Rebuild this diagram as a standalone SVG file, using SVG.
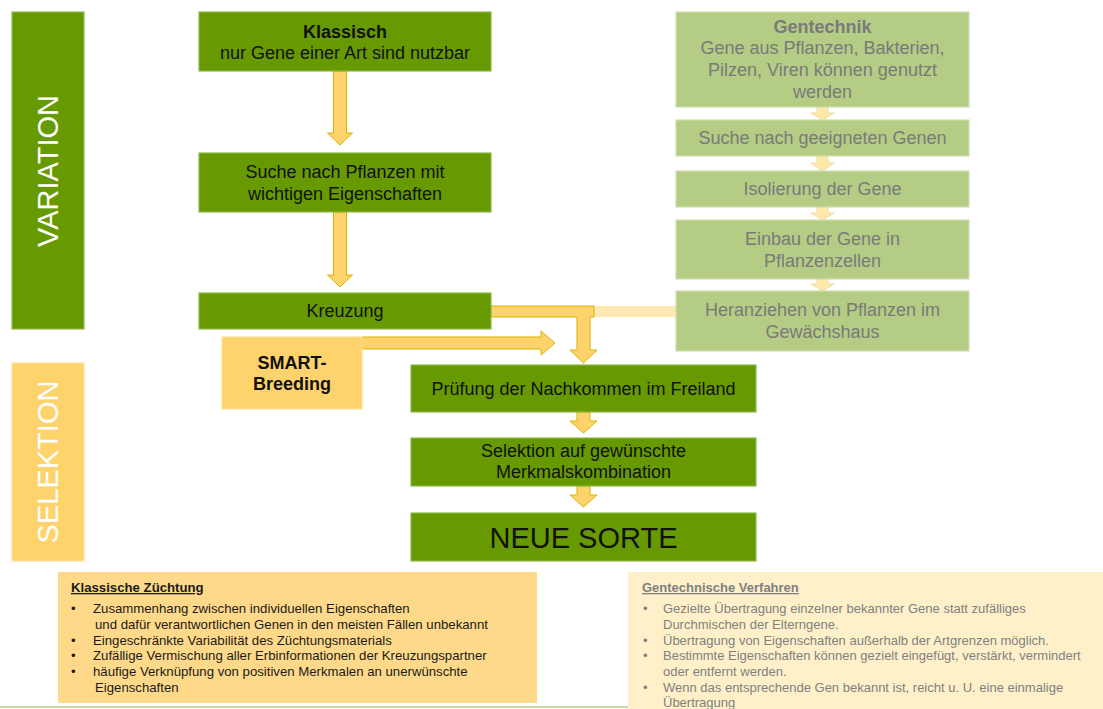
<svg xmlns="http://www.w3.org/2000/svg" width="1103" height="709" viewBox="0 0 1103 709">
<style>
.g{fill:#669a00;stroke:#8cba48;stroke-width:1.2}
.lg{fill:#b4cc84;stroke:#cfe0ad;stroke-width:1.2}
.y{fill:#ffd36b;stroke:#ffe29a;stroke-width:1.2}
.t{font-family:"Liberation Sans",Arial,sans-serif;font-size:18px;fill:#111;text-anchor:middle}
.tg{font-family:"Liberation Sans",Arial,sans-serif;font-size:18px;fill:#7a7a7a;text-anchor:middle}
.b{font-weight:bold}
.side{font-family:"Liberation Sans",Arial,sans-serif;font-size:29px;fill:#fff;text-anchor:middle}
.arr{fill:#ffd36b;stroke:#d9b300;stroke-width:1}
.parr{fill:#ffe9aa;stroke:#f3dc9a;stroke-width:1}
.n{font-family:"Liberation Sans",Arial,sans-serif;font-size:13.2px;fill:#1a1a1a}
.ng{font-family:"Liberation Sans",Arial,sans-serif;font-size:13px;fill:#808080}
</style>

<line x1="0" y1="707" x2="640" y2="707" stroke="#c8dca6" stroke-width="2"/>

<g id="variation">
<rect x="12" y="12" width="72" height="317" class="g"/>
<text class="side" transform="translate(58 171) rotate(-90)">VARIATION</text>
</g>
<g id="selektion">
<rect x="12" y="363" width="72" height="198" class="y"/>
<text class="side" transform="translate(58 462) rotate(-90)">SELEKTION</text>
</g>

<g id="connectors">
<path class="arr" d="M333.5 71 H346.5 V133 H352.5 L340 145 L327.5 133 H333.5 Z"/>
<path class="arr" d="M333.5 212 H346.5 V275 H352.5 L340 287 L327.5 275 H333.5 Z"/>
<rect x="594" y="306" width="82" height="11" fill="#ffe9b2"/>
<path class="arr" d="M491 306 H594 V317 H590 V350 H597 L583.5 363 L570 350 H577 V317 H491 Z"/>
<path class="arr" d="M362 337 H541 V331 L555 343 L541 355 V349 H362 Z"/>
<path class="arr" d="M577 412 H590 V421 H597 L583.5 433 L570 421 H577 Z"/>
<path class="arr" d="M577 486 H590 V495 H597 L583.5 507 L570 495 H577 Z"/>
<path class="parr" d="M817 107 H828 V113 H834 L822.5 120 L811 113 H817 Z"/>
<path class="parr" d="M817 156 H828 V163 H834 L822.5 171 L811 163 H817 Z"/>
<path class="parr" d="M817 207 H828 V213 H834 L822.5 220 L811 213 H817 Z"/>
<path class="parr" d="M817 279 H828 V284 H834 L822.5 291 L811 284 H817 Z"/>
</g>

<g id="klassisch">
<rect x="199" y="12" width="292" height="59" class="g"/>
<text class="t b" x="345" y="38">Klassisch</text>
<text class="t" x="345" y="59">nur Gene einer Art sind nutzbar</text>
</g>
<g id="suche-pflanzen">
<rect x="199" y="153" width="292" height="59" class="g"/>
<text class="t" x="345" y="178">Suche nach Pflanzen mit</text>
<text class="t" x="345" y="200">wichtigen Eigenschaften</text>
</g>
<g id="kreuzung">
<rect x="199" y="293" width="292" height="36" class="g"/>
<text class="t" x="345" y="317">Kreuzung</text>
</g>

<g id="gentechnik">
<rect x="676" y="12" width="293" height="95" class="lg"/>
<text class="tg b" x="822.5" y="33">Gentechnik</text>
<text class="tg" x="822.5" y="54">Gene aus Pflanzen, Bakterien,</text>
<text class="tg" x="822.5" y="76">Pilzen, Viren können genutzt</text>
<text class="tg" x="822.5" y="98">werden</text>
</g>
<g id="suche-gene">
<rect x="676" y="120" width="293" height="36" class="lg"/>
<text class="tg" x="822.5" y="144">Suche nach geeigneten Genen</text>
</g>
<g id="isolierung">
<rect x="676" y="171" width="293" height="36" class="lg"/>
<text class="tg" x="822.5" y="195">Isolierung der Gene</text>
</g>
<g id="einbau">
<rect x="676" y="220" width="293" height="59" class="lg"/>
<text class="tg" x="822.5" y="245">Einbau der Gene in</text>
<text class="tg" x="822.5" y="267">Pflanzenzellen</text>
</g>
<g id="heranziehen">
<rect x="676" y="291" width="293" height="60" class="lg"/>
<text class="tg" x="822.5" y="316">Heranziehen von Pflanzen im</text>
<text class="tg" x="822.5" y="338">Gewächshaus</text>
</g>

<g id="smart">
<rect x="222" y="337" width="140" height="72" class="y"/>
<text class="t b" x="292" y="369">SMART-</text>
<text class="t b" x="292" y="390">Breeding</text>
</g>
<g id="pruefung">
<rect x="411" y="365" width="345" height="47" class="g"/>
<text class="t" x="583.5" y="395">Prüfung der Nachkommen im Freiland</text>
</g>
<g id="selektion-box">
<rect x="411" y="438" width="345" height="48" class="g"/>
<text class="t" x="583.5" y="457">Selektion auf gewünschte</text>
<text class="t" x="583.5" y="478">Merkmalskombination</text>
</g>
<g id="neue-sorte">
<rect x="411" y="513" width="345" height="48" class="g"/>
<text class="t" x="583.5" y="548" style="font-size:29px">NEUE SORTE</text>
</g>

<g id="klassische-zuechtung">
<rect x="58" y="572" width="479" height="131" fill="#ffd98a"/>
<text class="n b" x="71" y="592" text-decoration="underline">Klassische Züchtung</text>
<text class="n" x="71" y="612.5">•</text>
<text class="n" x="93" y="612.5">Zusammenhang zwischen individuellen Eigenschaften</text>
<text class="n" x="95" y="628.5">und dafür verantwortlichen Genen in den meisten Fällen unbekannt</text>
<text class="n" x="71" y="644.5">•</text>
<text class="n" x="93" y="644.5">Eingeschränkte Variabilität des Züchtungsmaterials</text>
<text class="n" x="71" y="659.5">•</text>
<text class="n" x="93" y="659.5">Zufällige Vermischung aller Erbinformationen der Kreuzungspartner</text>
<text class="n" x="71" y="675.5">•</text>
<text class="n" x="93" y="675.5">häufige Verknüpfung von positiven Merkmalen an unerwünschte</text>
<text class="n" x="95" y="691.5">Eigenschaften</text>
</g>

<g id="gentechnische-verfahren">
<rect x="628" y="572" width="475" height="137" fill="#fff0c9"/>
<text class="ng b" x="642" y="592" text-decoration="underline">Gentechnische Verfahren</text>
<text class="ng" x="643" y="612.5">•</text>
<text class="ng" x="663" y="612.5">Gezielte Übertragung einzelner bekannter Gene statt zufälliges</text>
<text class="ng" x="663" y="628.5">Durchmischen der Elterngene.</text>
<text class="ng" x="643" y="644.5">•</text>
<text class="ng" x="663" y="644.5">Übertragung von Eigenschaften außerhalb der Artgrenzen möglich.</text>
<text class="ng" x="643" y="659.5">•</text>
<text class="ng" x="663" y="659.5">Bestimmte Eigenschaften können gezielt eingefügt, verstärkt, vermindert</text>
<text class="ng" x="663" y="675.5">oder entfernt werden.</text>
<text class="ng" x="643" y="691.5">•</text>
<text class="ng" x="663" y="691.5">Wenn das entsprechende Gen bekannt ist, reicht u. U. eine einmalige</text>
<text class="ng" x="663" y="706.5">Übertragung</text>
</g>
</svg>
